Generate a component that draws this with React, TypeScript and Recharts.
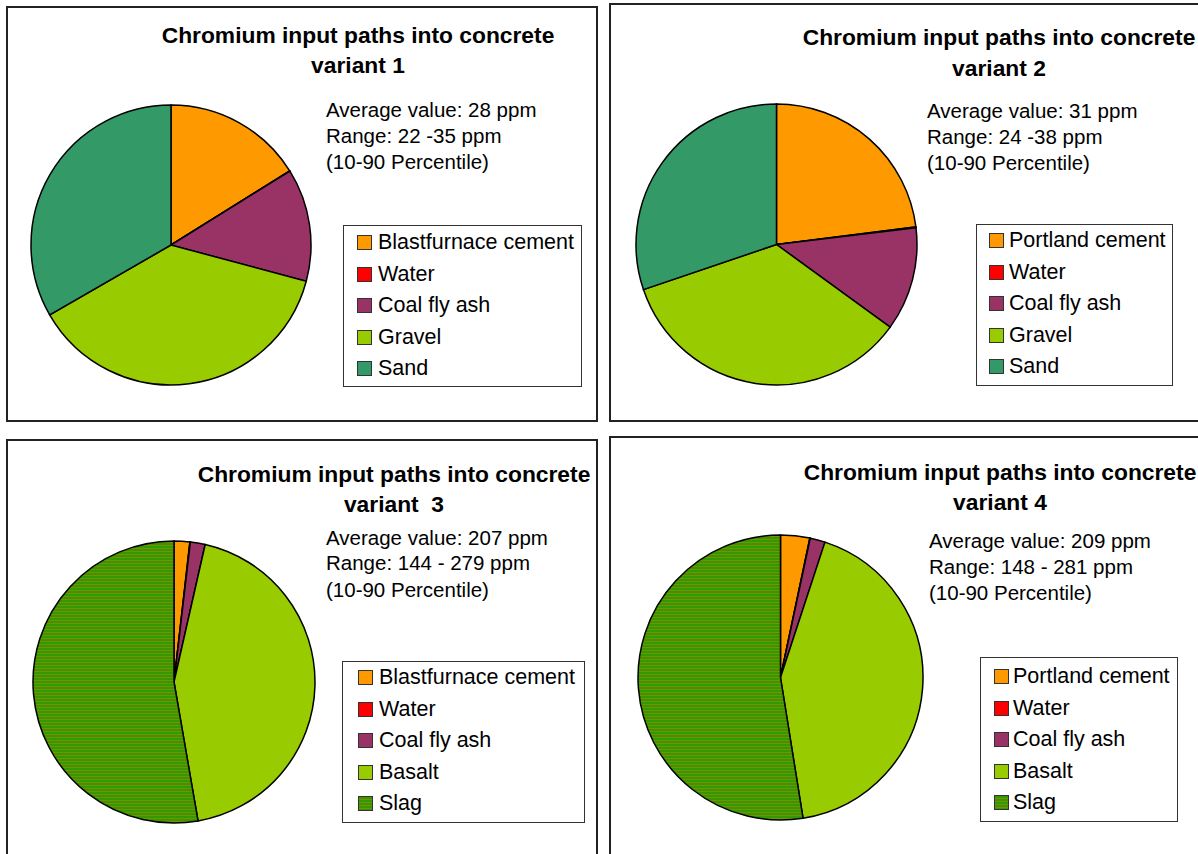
import { PieChart, Pie, Cell, Legend } from 'recharts';

const FONT = '"Liberation Sans", Arial, sans-serif';

const TITLE = 'Chromium input paths into concrete';
const variantLabels = ['variant 1', 'variant 2', 'variant  3', 'variant 4'];

const namesV1 = ['Blastfurnace cement', 'Water', 'Coal fly ash', 'Gravel', 'Sand'];
const namesV2 = ['Portland cement', 'Water', 'Coal fly ash', 'Gravel', 'Sand'];
const namesV3 = ['Blastfurnace cement', 'Water', 'Coal fly ash', 'Basalt', 'Slag'];
const namesV4 = ['Portland cement', 'Water', 'Coal fly ash', 'Basalt', 'Slag'];

// share of chromium input, percent
const valuesV1 = [16.1, 0.05, 13.0, 37.5, 33.3];
const valuesV2 = [23.0, 0.1, 11.9, 34.8, 30.2];
const valuesV3 = [1.8, 0.05, 1.7, 43.7, 52.7];
const valuesV4 = [3.3, 0.05, 1.7, 42.4, 52.5];

const notesV1 = ['Average value: 28 ppm', 'Range: 22 -35 ppm', '(10-90 Percentile)'];
const notesV2 = ['Average value: 31 ppm', 'Range: 24 -38 ppm', '(10-90 Percentile)'];
const notesV3 = ['Average value: 207 ppm', 'Range: 144 - 279 ppm', '(10-90 Percentile)'];
const notesV4 = ['Average value: 209 ppm', 'Range: 148 - 281 ppm', '(10-90 Percentile)'];

const colorsSandMix = ['#FF9900', '#FF0000', '#993366', '#99CC00', '#339966'];
const colorsSlagMix = ['#FF9900', '#FF0000', '#993366', '#99CC00', 'slag'];

interface PanelProps {
  id: string;
  left: number;
  top: number;
  width: number;
  height: number;
  names: string[];
  values: number[];
  colors: string[];
  notes: string[];
  variant: string;
  cx: number;
  cy: number;
  r: number;
  titleX: number;
  titleY: number[];
  noteX: number;
  noteY: number[];
  legend: { x: number; y: number; w: number; h: number; sw: number; tx: number; pad: number };
}

const slagCss = 'repeating-linear-gradient(to bottom, #339900 0px, #339900 2px, #7a9000 2px, #7a9000 3px)';

function Panel(p: PanelProps) {
  const data = p.names.map((name, i) => ({ name, value: p.values[i] }));
  const fillOf = (c: string) => (c === 'slag' ? `url(#slag-${p.id})` : c);
  return (
    <div
      style={{
        position: 'absolute',
        left: p.left,
        top: p.top,
        width: p.width,
        height: p.height,
        border: '2px solid #222',
        background: '#fff',
      }}
    >
      <PieChart width={p.width} height={p.height} margin={{ top: 0, right: 0, bottom: 0, left: 0 }}>
        <defs>
          <pattern id={`slag-${p.id}`} width="4" height="3" patternUnits="userSpaceOnUse">
            <rect width="4" height="3" fill="#339900" />
            <rect y="2" width="4" height="1" fill="#7a9000" />
          </pattern>
        </defs>
        <text x={p.titleX} y={p.titleY[0]} textAnchor="middle" fontFamily={FONT} fontWeight="bold" fontSize={22.8} fill="#000">
          {TITLE}
        </text>
        <text
          x={p.titleX}
          y={p.titleY[1]}
          textAnchor="middle"
          fontFamily={FONT}
          fontWeight="bold"
          fontSize={22.8}
          fill="#000"
          style={{ whiteSpace: 'pre' }}
        >
          {p.variant}
        </text>
        {p.notes.map((t, i) => (
          <text key={t} x={p.noteX} y={p.noteY[i]} fontFamily={FONT} fontSize={20.5} fill="#000">
            {t}
          </text>
        ))}
        <Pie
          data={data}
          dataKey="value"
          nameKey="name"
          cx={p.cx}
          cy={p.cy}
          outerRadius={p.r}
          innerRadius={0}
          startAngle={90}
          endAngle={-270}
          stroke="#000"
          strokeWidth={1.5}
          isAnimationActive={false}
        >
          {data.map((d, i) => (
            <Cell key={d.name} fill={fillOf(p.colors[i])} />
          ))}
        </Pie>
        <Legend
          layout="vertical"
          align="right"
          verticalAlign="top"
          wrapperStyle={{ left: p.legend.x, top: p.legend.y, width: p.legend.w, height: p.legend.h }}
          content={() => (
            <div
              style={{
                boxSizing: 'border-box',
                width: p.legend.w,
                height: p.legend.h,
                border: '1px solid #333',
                background: '#fff',
                paddingTop: p.legend.pad,
                fontFamily: FONT,
                fontSize: 21.5,
                color: '#000',
              }}
            >
              {p.names.map((name, i) => (
                <div key={name} style={{ position: 'relative', height: 31.5 }}>
                  <span
                    style={{
                      position: 'absolute',
                      left: p.legend.sw - 1,
                      top: 8,
                      width: 13,
                      height: 13,
                      border: '1px solid #333',
                      background: p.colors[i] === 'slag' ? slagCss : p.colors[i],
                    }}
                  />
                  <span style={{ position: 'absolute', left: p.legend.tx - 1, top: 3, lineHeight: '24px', whiteSpace: 'nowrap' }}>
                    {name}
                  </span>
                </div>
              ))}
            </div>
          )}
        />
      </PieChart>
    </div>
  );
}

export default function App() {
  return (
    <div style={{ position: 'absolute', left: 0, top: 0, width: 1198, height: 854, overflow: 'hidden', background: '#fff' }}>
      <Panel
        id="v1"
        left={6}
        top={6}
        width={588}
        height={412}
        names={namesV1}
        values={valuesV1}
        colors={colorsSandMix}
        notes={notesV1}
        variant={variantLabels[0]}
        cx={163}
        cy={237}
        r={140}
        titleX={350}
        titleY={[35, 65]}
        noteX={318}
        noteY={[109, 135, 161]}
        legend={{ x: 335, y: 217, w: 239, h: 162, sw: 14, tx: 35, pad: 1 }}
      />
      <Panel
        id="v2"
        left={609}
        top={3}
        width={600}
        height={415}
        names={namesV2}
        values={valuesV2}
        colors={colorsSandMix}
        notes={notesV2}
        variant={variantLabels[1]}
        cx={165.5}
        cy={239.5}
        r={140.5}
        titleX={388}
        titleY={[40, 71]}
        noteX={316}
        noteY={[113, 139, 165]}
        legend={{ x: 365, y: 219, w: 197, h: 162, sw: 13, tx: 33, pad: 0 }}
      />
      <Panel
        id="v3"
        left={6}
        top={439}
        width={588}
        height={430}
        names={namesV3}
        values={valuesV3}
        colors={colorsSlagMix}
        notes={notesV3}
        variant={variantLabels[2]}
        cx={166}
        cy={241}
        r={141}
        titleX={386}
        titleY={[41, 71]}
        noteX={318}
        noteY={[104, 129, 156]}
        legend={{ x: 334, y: 220, w: 243, h: 162, sw: 16, tx: 37, pad: 0 }}
      />
      <Panel
        id="v4"
        left={609}
        top={436}
        width={600}
        height={430}
        names={namesV4}
        values={valuesV4}
        colors={colorsSlagMix}
        notes={notesV4}
        variant={variantLabels[3]}
        cx={169.5}
        cy={239.5}
        r={142.5}
        titleX={389}
        titleY={[42, 72]}
        noteX={318}
        noteY={[110, 136, 162]}
        legend={{ x: 369, y: 219, w: 198, h: 165, sw: 14, tx: 33, pad: 3 }}
      />
    </div>
  );
}
